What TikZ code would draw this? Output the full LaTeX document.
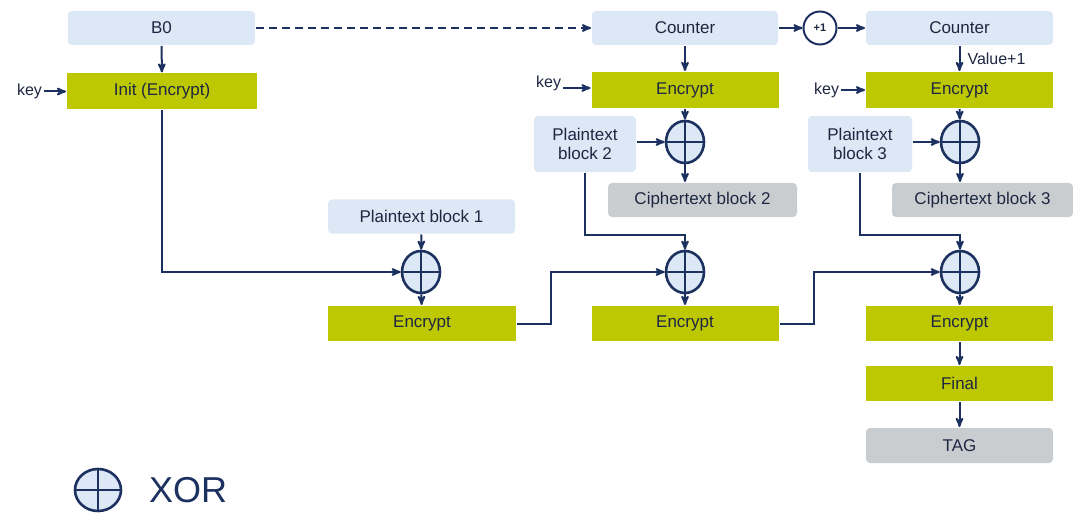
\documentclass[tikz,border=0pt]{standalone}
\usepackage{fontspec}
\setmainfont{Liberation Sans}
\usepackage{xcolor}
\usetikzlibrary{positioning,arrows,shapes.geometric}
\definecolor{lblue}{HTML}{DCE8F5}
\definecolor{lime}{HTML}{BDC800}
\definecolor{lgray}{HTML}{C9CDD0}
\definecolor{navy}{HTML}{1C3160}
\definecolor{txt}{HTML}{1E2742}

\tikzset{
	blk/.style={fill=lblue,rounded corners=4pt,minimum height=34pt,inner sep=0pt,text=txt,font=\fontsize{17}{19}\selectfont},
	enc/.style={fill=lime,minimum width=187pt,minimum height=36pt,inner sep=0pt,text=txt,font=\fontsize{17}{19}\selectfont},
	cip/.style={fill=lgray,rounded corners=4pt,minimum height=34pt,inner sep=0pt,text=txt,font=\fontsize{17}{19}\selectfont},
	xor/.style={ellipse,draw=navy,fill=lblue,line width=2.6pt,minimum width=38pt,minimum height=42pt,inner sep=0pt,
		path picture={\draw[-,navy,line width=2.6pt] (path picture bounding box.north) -- (path picture bounding box.south)
			(path picture bounding box.west) -- (path picture bounding box.east);}},
	lbl/.style={text=txt,inner sep=1pt,font=\fontsize{16}{18}\selectfont}
}

\begin{document}
\begin{tikzpicture}[x=1pt,y=-1pt,->,>=stealth',line width=2pt,navy]
	\useasboundingbox (0,0) rectangle (1073,513);
	
	% top row
	\node[blk,minimum width=187pt] (b0) at (161.5,28) {B0};
	\node[blk,minimum width=186pt] (c1) at (685,28) {Counter};
	\node[circle,draw=navy,fill=white,line width=2pt,minimum size=33pt,inner sep=0pt,text=txt,font=\bfseries\fontsize{11}{12}\selectfont] (inc) at (820,28) {+1};
	\node[blk,minimum width=187pt] (c2) at (959.5,28) {Counter};
	
	% encrypt with counter
	\node[enc,minimum width=190pt] (init) at (162,91.5) {Init (Encrypt)};
	\node[enc] (e2) at (685,90) {Encrypt};
	\node[enc] (e3) at (959.5,90) {Encrypt};
	\node[lbl,left=22pt of init] (k1) {key};
	\node[lbl,anchor=base east] (k2) at (563,88) {key};
	\node[lbl,left=24pt of e3] (k3) {key};
	
	\node[xor] (t2) at (685,142) {};
	\node[xor] (t3) at (960,142) {};
	\node[blk,minimum width=102pt,minimum height=56pt,align=center] (p2) at (585,144) {Plaintext\\block 2};
	\node[blk,minimum width=104pt,minimum height=56pt,align=center] (p3) at (860,144) {Plaintext\\block 3};
	\node[cip,minimum width=189pt] (ct2) at (702.5,200) {Ciphertext block 2};
	\node[cip,minimum width=181pt] (ct3) at (982.5,200) {Ciphertext block 3};
	
	% MAC chain
	\node[blk,minimum width=187pt] (p1) at (421.5,216.5) {Plaintext block 1};
	\node[xor] (x1) at (421,272) {};
	\node[xor] (x2) at (685,272) {};
	\node[xor] (x3) at (960,272) {};
	\node[enc,minimum width=188pt,minimum height=35pt] (e4) at (422,323.5) {Encrypt};
	\node[enc,minimum height=35pt] (e5) at (685,323.5) {Encrypt};
	\node[enc,minimum height=35pt] (e6) at (959.5,323.5) {Encrypt};
	\node[enc,minimum height=35pt] (fin) at (959.5,383.5) {Final};
	\node[cip,minimum width=187pt,minimum height=35pt] (tag) at (959.5,445.5) {TAG};
	
	% legend
	\node[xor,minimum width=46pt,minimum height=42pt] (lx) at (98,490) {};
	\node[text=navy,inner sep=0pt,anchor=west,font=\fontsize{36}{40}\selectfont] (lt) at (148,490) {XOR};
	
	\draw[dash pattern=on 8pt off 5pt] (b0) -- (c1);
	\draw (c1) -- (inc);
	\draw (inc) -- (c2);
	\draw (b0) -- (init);
	\draw (c1) -- (e2);
	\draw (c2) -- node[lbl,right=6pt] {Value+1} (e3);
	\draw (k1) -- (init);
	\draw (k2.base east) -- (k2.base east -| e2.west);
	\draw (k3) -- (e3);
	\draw (e2) -- (t2);
	\draw (e3) -- (t3);
	\draw (p2.east |- t2) -- (t2);
	\draw (p3.east |- t3) -- (t3);
	\draw (t2) -- (t2 |- ct2.north);
	\draw (t3) -- (t3 |- ct3.north);
	
	\draw (init) -- (init |- x1) -- (x1);
	\draw (p1) -- (x1);
	\draw (x1) -- (e4);
	\draw (e4.east) -- ++(34,0) |- (x2);
	\draw (p2.south) -- ++(0,62) -| (x2);
	\draw (x2) -- (e5);
	\draw (e5.east) -- ++(34,0) |- (x3);
	\draw (p3.south) -- ++(0,62) -| (x3);
	\draw (x3) -- (e6);
	\draw (e6) -- (fin);
	\draw (fin) -- (tag);
\end{tikzpicture}
\end{document}
